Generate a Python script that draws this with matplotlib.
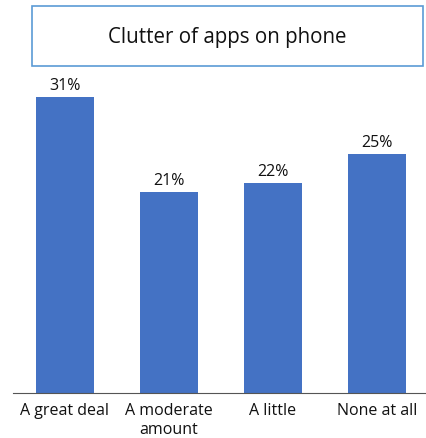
import matplotlib.pyplot as plt
from matplotlib.patches import Rectangle

categories = ['A great deal', 'A moderate\namount', 'A little', 'None at all']
values = [31, 21, 22, 25]
labels = ['31%', '21%', '22%', '25%']

plt.rcParams['font.family'] = ['Open Sans', 'DejaVu Sans']

fig = plt.figure(figsize=(4.27, 4.38), dpi=100)
W, H = 427, 438

# axes placed by pixel estimates from the reference
ax = fig.add_axes([13 / W, (H - 393) / H, 416 / W, 313 / H])
x = range(len(categories))
ax.bar(x, values, width=0.56, color='#4472C4')
for xi, v, lab in zip(x, values, labels):
    ax.text(xi, v + 0.35, lab, ha='center', va='bottom', fontsize=11.5, color='#111111')

ax.set_xlim(-0.5, 3.5)
ax.set_ylim(0, 32.77)
ax.set_xticks(list(x))
ax.set_xticklabels(categories, fontsize=11.5, color='#111111', linespacing=1.25)
ax.tick_params(axis='x', length=0, pad=7)
ax.set_yticks([])
for side in ['top', 'right', 'left']:
    ax.spines[side].set_visible(False)
ax.spines['bottom'].set_color('#555555')

# title box
fig.patches.append(Rectangle((32 / W, (H - 66) / H), 391 / W, 60 / H,
                             transform=fig.transFigure, fill=False,
                             edgecolor='#5B9BD5', linewidth=1.2))
fig.text(227 / W, (H - 37) / H, 'Clutter of apps on phone', ha='center', va='center',
         fontsize=14.8, color='#111111')

fig.savefig('out.png', dpi=100)
